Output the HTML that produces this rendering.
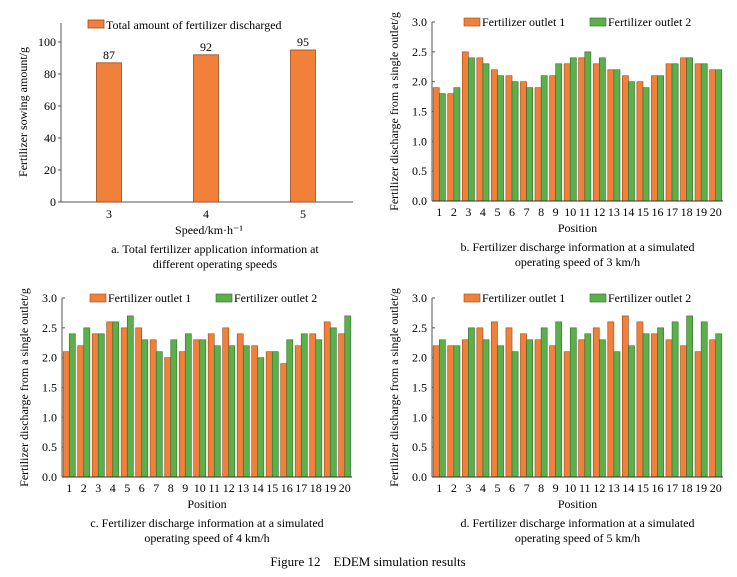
<!DOCTYPE html>
<html><head><meta charset="utf-8"><style>
body{margin:0;background:#fff;}
svg{display:block;font-family:"Liberation Serif",serif;}
</style></head><body>
<svg id="s" width="737" height="577">
<g id="pa"></g>
<g id="pb"></g>
<g id="pc"></g>
<g id="pd"></g>
<text x="368" y="566" font-size="13" text-anchor="middle" style="white-space:pre">Figure 12    EDEM simulation results</text>
</svg>
<script>
const speeds=["3","4","5"];
const totals=[87,92,95];
const aTicks=[0,20,40,60,80,100];
const positions=["1","2","3","4","5","6","7","8","9","10","11","12","13","14","15","16","17","18","19","20"];
const b1=[1.9,1.8,2.5,2.4,2.2,2.1,2.0,1.9,2.1,2.3,2.4,2.3,2.2,2.1,2.0,2.1,2.3,2.4,2.3,2.2];
const b2=[1.8,1.9,2.4,2.3,2.1,2.0,1.9,2.1,2.3,2.4,2.5,2.4,2.2,2.0,1.9,2.1,2.3,2.4,2.3,2.2];
const c1=[2.1,2.2,2.4,2.6,2.5,2.5,2.3,2.0,2.1,2.3,2.4,2.5,2.4,2.2,2.1,1.9,2.2,2.4,2.6,2.4];
const c2=[2.4,2.5,2.4,2.6,2.7,2.3,2.1,2.3,2.4,2.3,2.2,2.2,2.2,2.0,2.1,2.3,2.4,2.3,2.5,2.7];
const d1=[2.2,2.2,2.3,2.5,2.6,2.5,2.4,2.3,2.2,2.1,2.3,2.5,2.6,2.7,2.6,2.4,2.3,2.2,2.1,2.3];
const d2=[2.3,2.2,2.5,2.3,2.2,2.1,2.3,2.5,2.6,2.5,2.4,2.3,2.1,2.2,2.4,2.5,2.6,2.7,2.6,2.4];
const pTicks=[0,0.5,1.0,1.5,2.0,2.5,3.0];
const NS="http://www.w3.org/2000/svg";
const OR="#f0803a",ORS="#9a4a1a",GR="#5cb04c",GRS="#2f6a2a";
function mk(p,tag,at,txt){const e=document.createElementNS(NS,tag);for(const k in at)e.setAttribute(k,at[k]);if(txt!==undefined)e.textContent=txt;p.appendChild(e);return e;}
(function(){
const g=document.getElementById('pa');
const x0=61,x1=353,yb=202,yt=42; const y=v=>yb-(v/100)*(yb-yt);
const xc=i=>109+i*97;
let e=mk(g,'line',{x1:x0,y1:23,x2:x0,y2:yb,stroke:'#555'});

e=mk(g,'line',{x1:x0,y1:yb,x2:x1,y2:yb,stroke:'#555'});

aTicks.forEach(t=>{e=mk(g,'text',{x:x0-5,y:y(t)+4,'font-size':12,'text-anchor':'end'},String(t));

mk(g,'line',{x1:x0,y1:y(t),x2:x0-3,y2:y(t),stroke:'#555'});});
speeds.forEach((s,i)=>{
e=mk(g,'rect',{x:xc(i)-12.5,y:y(totals[i]),width:25,height:yb-y(totals[i]),fill:OR,stroke:ORS,'stroke-width':0.8});

e=mk(g,'text',{x:xc(i),y:y(totals[i])-4,'font-size':12,'text-anchor':'middle'},String(totals[i]));

e=mk(g,'text',{x:xc(i),y:yb+16,'font-size':12,'text-anchor':'middle'},s);

});
e=mk(g,'rect',{x:88,y:20,width:16,height:8,fill:OR,stroke:ORS,'stroke-width':0.8});

e=mk(g,'text',{x:106,y:29,'font-size':12},'Total amount of fertilizer discharged');

e=mk(g,'text',{x:0,y:0,'font-size':12,'text-anchor':'middle',transform:'translate(27,112) rotate(-90)'},'Fertilizer sowing amount/g');

e=mk(g,'text',{x:209,y:234,'font-size':12,'text-anchor':'middle'},'Speed/km·h⁻¹');

e=mk(g,'text',{x:215,y:253,'font-size':12,'text-anchor':'middle'},'a. Total fertilizer application information at');

mk(g,'text',{x:215,y:268,'font-size':12,'text-anchor':'middle'},'different operating speeds');
})();
function panel(id,x0,x1,yt,yb,s1,s2,cap1,cap2,legX){
const g=document.getElementById(id);
const y=v=>yb-(v/3)*(yb-yt);
const gw=(x1-x0)/20, bw=gw*0.42;
let e=mk(g,'line',{x1:x0,y1:yt,x2:x0,y2:yb,stroke:'#555'});

pTicks.forEach(t=>{e=mk(g,'text',{x:x0-5,y:y(t)+4,'font-size':12,'text-anchor':'end'},t.toFixed(1));

mk(g,'line',{x1:x0,y1:y(t),x2:x0+3,y2:y(t),stroke:'#555'});});
positions.forEach((p,i)=>{
const c=x0+gw*(i+0.5);
e=mk(g,'rect',{x:c-bw,y:y(s1[i]),width:bw,height:yb-y(s1[i]),fill:OR,stroke:ORS,'stroke-width':0.6});

e=mk(g,'rect',{x:c,y:y(s2[i]),width:bw,height:yb-y(s2[i]),fill:GR,stroke:GRS,'stroke-width':0.6});

e=mk(g,'text',{x:c,y:yb+15,'font-size':12,'text-anchor':'middle'},p);

});
e=mk(g,'line',{x1:x0,y1:yb,x2:x1,y2:yb,stroke:'#333'});

e=mk(g,'rect',{x:legX,y:yt-4,width:16,height:8,fill:OR,stroke:ORS,'stroke-width':0.6});

e=mk(g,'text',{x:legX+18,y:yt+4,'font-size':12},'Fertilizer outlet 1');

e=mk(g,'rect',{x:legX+126,y:yt-4,width:16,height:8,fill:GR,stroke:GRS,'stroke-width':0.6});

e=mk(g,'text',{x:legX+144,y:yt+4,'font-size':12},'Fertilizer outlet 2');

e=mk(g,'text',{x:0,y:0,'font-size':12,'text-anchor':'middle',transform:'translate('+(x0-34)+','+((yt+yb)/2)+') rotate(-90)'},'Fertilizer discharge from a single outlet/g');

e=mk(g,'text',{x:(x0+x1)/2,y:yb+31,'font-size':12,'text-anchor':'middle'},'Position');

e=mk(g,'text',{x:(x0+x1)/2,y:yb+50,'font-size':12,'text-anchor':'middle'},cap1);

mk(g,'text',{x:(x0+x1)/2,y:yb+65,'font-size':12,'text-anchor':'middle'},cap2);
}
panel('pb',432,723,22,201,b1,b2,'b. Fertilizer discharge information at a simulated','operating speed of 3 km/h',464);
panel('pc',62,352,298,477,c1,c2,'c. Fertilizer discharge information at a simulated','operating speed of 4 km/h',90);
panel('pd',432,723,298,477,d1,d2,'d. Fertilizer discharge information at a simulated','operating speed of 5 km/h',464);
</script>
</body></html>
